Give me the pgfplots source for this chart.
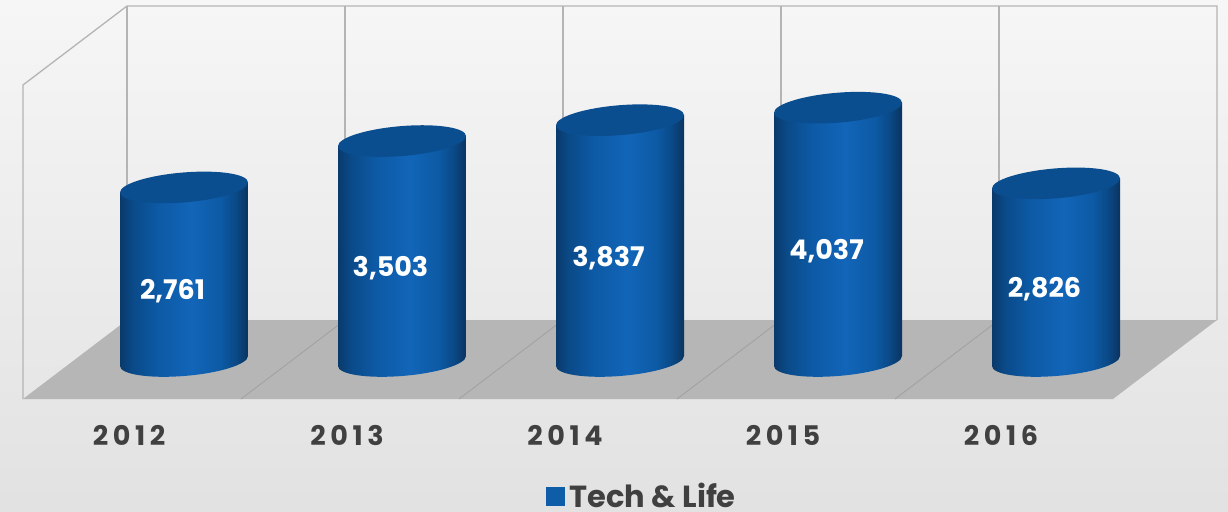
\documentclass[border=0pt]{standalone}
\usepackage{pgfplots}
\pgfplotsset{compat=1.18}
\usepackage{fontspec}
\setmainfont{Poppins}
\newfontfamily\spaced[LetterSpace=17]{Poppins}
\definecolor{barblue}{HTML}{0F5CA8}
\definecolor{lab}{HTML}{404040}
\definecolor{wall}{HTML}{B4B4B4}
\definecolor{cylA}{HTML}{0A3A6C}
\definecolor{cylB}{HTML}{0A4A88}
\definecolor{cylC}{HTML}{0D5AA6}
\definecolor{cylD}{HTML}{1265B8}
\definecolor{cylE}{HTML}{0A3460}
\definecolor{capM}{HTML}{0A4680}
\definecolor{capE}{HTML}{0A4E90}
\pgfdeclarehorizontalshading{cyl}{100bp}{
 color(0bp)=(cylA); color(25bp)=(cylA); color(30bp)=(cylB); color(40bp)=(cylC);
 color(53bp)=(cylD); color(64bp)=(cylC); color(70bp)=(cylB); color(75bp)=(cylE); color(100bp)=(cylE)}
\pgfdeclareplotmark{cylinder}{%
  \pgfmathsetmacro{\Hb}{\rawv*0.0625+1}%
  \pgfmathsetmacro{\Ha}{-\Hb-5}%
  \pgfmathsetmacro{\Hc}{-\Hb-13.28}%
  \pgfmathsetmacro{\Hd}{-\Hb-17.76}%
  \pgfmathsetmacro{\He}{-\Hb-15}%
  \pgfmathsetmacro{\Hf}{-\Hb-12.24}%
  \pgfmathsetmacro{\Hg}{-\Hb-3.28}%
  \pgfmathsetmacro{\Hh}{-\Hb+5}%
  \path[draw=none,shading=cyl] (-64pt,-5pt) -- (-64pt,\Ha pt)
    .. controls (-64pt,\Hc pt) and (-35.35pt,\Hd pt) .. (0pt,\He pt)
    .. controls (35.35pt,\Hf pt) and (64pt,\Hg pt) .. (64pt,\Hh pt)
    -- (64pt,5pt) -- cycle;
  \path[draw=none,left color=capE,middle color=capM,right color=capE]
    (-64pt,-5pt) .. controls (-64pt,-13.28pt) and (-35.35pt,-17.76pt) .. (0pt,-15pt)
    .. controls (35.35pt,-12.24pt) and (64pt,-3.28pt) .. (64pt,5pt)
    .. controls (64pt,13.28pt) and (35.35pt,17.76pt) .. (0pt,15pt)
    .. controls (-35.35pt,12.24pt) and (-64pt,3.28pt) .. (-64pt,-5pt) -- cycle;
}
\begin{document}
\begin{tikzpicture}
\begin{axis}[name=decor,at={(0,0)},anchor=south west,scale only axis,width=1228pt,height=512pt,
  xmin=0,xmax=1228,ymin=0,ymax=512,y dir=reverse,hide axis,clip=false]
  \shade[top color=black!3.5,bottom color=black!11.5] (axis cs:0,0) rectangle (axis cs:1228,512);
  \fill[black!28.5] (axis cs:23,399) -- (axis cs:1113,399) -- (axis cs:1217,320) -- (axis cs:127,320) -- cycle;
  \draw[wall!90!black,line width=0.9pt] (axis cs:241,399) -- (axis cs:345,320);
  \draw[wall!90!black,line width=0.9pt] (axis cs:459,399) -- (axis cs:563,320);
  \draw[wall!90!black,line width=0.9pt] (axis cs:677,399) -- (axis cs:781,320);
  \draw[wall!90!black,line width=0.9pt] (axis cs:895,399) -- (axis cs:999,320);
  \draw[wall,line width=1.3pt] (axis cs:23,399) -- (axis cs:23,85) -- (axis cs:127,6) -- (axis cs:1217,6) -- (axis cs:1217,320);
  \draw[wall,line width=1.5pt] (axis cs:127,6) -- (axis cs:127,320);
  \draw[wall,line width=1.2pt] (axis cs:345,6) -- (axis cs:345,320);
  \draw[wall,line width=1.2pt] (axis cs:563,6) -- (axis cs:563,320);
  \draw[wall,line width=1.2pt] (axis cs:781,6) -- (axis cs:781,320);
  \draw[wall,line width=1.2pt] (axis cs:999,6) -- (axis cs:999,320);
\end{axis}
\begin{axis}[name=data,at={(0,0)},anchor=south west,scale only axis,width=1228pt,height=512pt,
  xmin=-0.84404,xmax=4.78899,ymin=-2432,ymax=5760,clip=false,
  axis line style={draw=none},tick style={draw=none},major tick length=0pt,
  axis x line*=bottom,axis y line*=left,
  xtick={0,1,2,3,4},xticklabels={2012,2013,2014,2015,2016},ytick=\empty,
  xticklabel style={font=\spaced\bfseries\fontsize{27}{27}\selectfont,text=lab,anchor=center,text height=20pt,text depth=0pt,xshift=-55pt,yshift=76pt},
  /pgf/number format/assume math mode=true,
  /pgf/number format/1000 sep={,},
  legend style={at={(rel axis cs:0.4446,0.002)},anchor=south west,draw=none,fill=none,inner sep=0pt,outer sep=0pt,
    font=\bfseries\fontsize{30.5}{30.5}\selectfont,text=lab},
  legend cell align=left]
\addplot[only marks,mark=cylinder,
  visualization depends on={value \thisrow{v} \as \rawv},
  point meta=y,
  nodes near coords,
  nodes near coords style={font=\bfseries\fontsize{27}{27}\selectfont,text=white,anchor=center,text height=20pt,text depth=3pt,xshift=-11.5pt,
     yshift={-(0.03125*\rawv+17.5)*1pt}},
  legend image code/.code={\fill[barblue] (0pt,-9pt) rectangle (18pt,9pt);}]
 table[x=x,y=v]{
 x v
 0 2761
 1 3503
 2 3837
 3 4037
 4 2826
};
\addlegendentry{\hspace*{3pt}Tech \& Life}
\end{axis}
\end{tikzpicture}
\end{document}
